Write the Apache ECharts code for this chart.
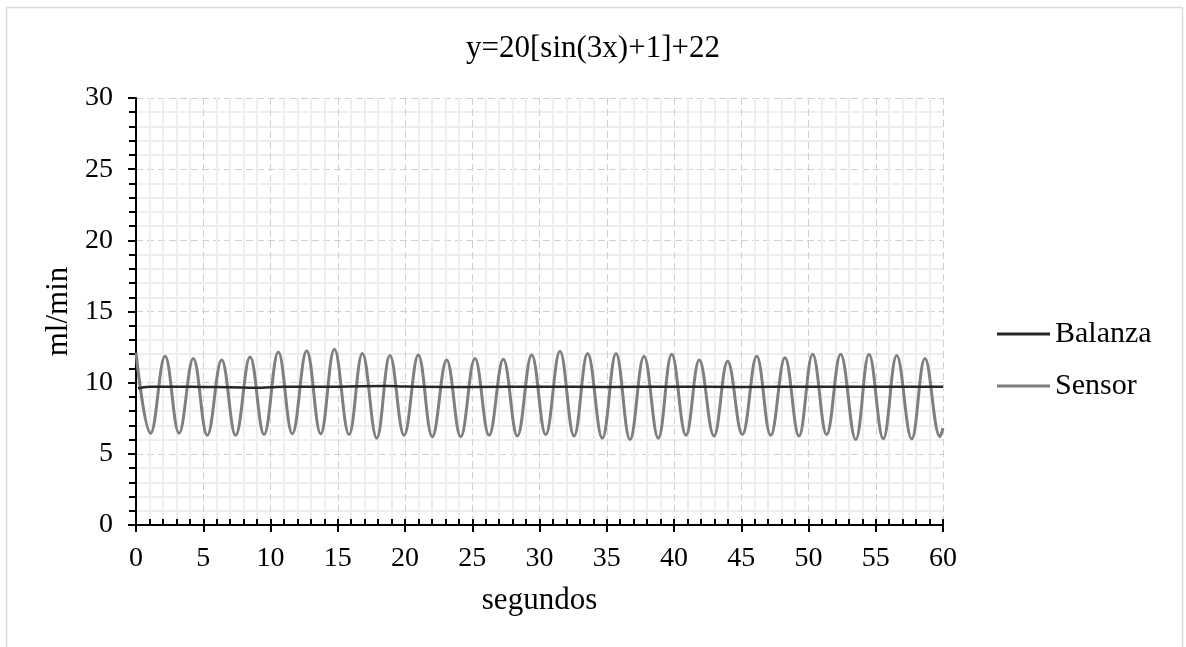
<!DOCTYPE html>
<html>
<head>
<meta charset="utf-8">
<script src="https://cdn.jsdelivr.net/npm/echarts@6/dist/echarts.min.js"></script>
<style>
html,body{margin:0;padding:0;background:#fff;}
#chart{width:1186px;height:647px;}
</style>
</head>
<body>
<div id="chart"></div>
<script>
// ---- data ----
var sensorTimes = [0, 1.09, 2.16, 3.2, 4.26, 5.3, 6.37, 7.41, 8.48, 9.52, 10.58, 11.62, 12.69, 13.73, 14.75, 15.84, 16.83, 17.9, 18.88, 19.93, 20.99, 22.03, 23.1, 24.14, 25.2, 26.25, 27.31, 28.35, 29.42, 30.46, 31.52, 32.57, 33.58, 34.67, 35.69, 36.73, 37.77, 38.83, 39.83, 40.89, 41.88, 42.97, 43.99, 45.08, 46.15, 47.19, 48.25, 49.29, 50.31, 51.35, 52.39, 53.51, 54.5, 55.56, 56.56, 57.67, 58.66, 59.78, 60];
var sensorValues = [12.1, 6.45, 11.85, 6.45, 11.7, 6.3, 11.6, 6.3, 11.8, 6.35, 12.15, 6.4, 12.25, 6.4, 12.35, 6.35, 12.05, 6.1, 11.9, 6.3, 11.95, 6.2, 11.6, 6.2, 11.7, 6.3, 11.65, 6.25, 11.95, 6.35, 12.2, 6.25, 12.05, 6.1, 12.05, 6.0, 11.85, 6.1, 12.0, 6.3, 11.6, 6.25, 11.5, 6.35, 11.85, 6.3, 11.75, 6.25, 12.0, 6.35, 12.0, 6.0, 12.0, 6.05, 11.9, 6.05, 11.7, 6.2, 6.8];
var balanzaTimes = [0.15, 1, 3, 5, 7, 9, 10, 11, 15, 18.6, 20, 25, 30, 35, 40, 45, 50, 55, 60];
var balanzaValues = [9.6, 9.72, 9.72, 9.7, 9.68, 9.65, 9.68, 9.72, 9.72, 9.76, 9.73, 9.7, 9.72, 9.7, 9.72, 9.7, 9.72, 9.72, 9.72];
var titleText = 'y=20[sin(3x)+1]+22';
var xName = 'segundos';
var yName = 'ml/min';
var seriesNames = ['Balanza', 'Sensor'];

function pairs(xs, ys) { return xs.map(function (x, i) { return [x, ys[i]]; }); }

var FONT = '"Liberation Serif", "Times New Roman", serif';
var chart = echarts.init(document.getElementById('chart'), null, {renderer: 'canvas'});
chart.setOption({
  animation: false,
  backgroundColor: '#fff',
  title: {
    text: titleText, left: 'center', top: 28,
    textStyle: {fontFamily: FONT, fontSize: 31, fontWeight: 'normal', color: '#000'}
  },
  legend: {
    orient: 'vertical', left: 997, top: 319, padding: 0, itemWidth: 53, itemHeight: 3, itemGap: 22,
    icon: 'rect', data: seriesNames,
    textStyle: {fontFamily: FONT, fontSize: 30, color: '#000'}
  },
  grid: {left: 136, right: 243, top: 98, bottom: 122, containLabel: false},
  graphic: [{
    type: 'rect', shape: {x: 6.5, y: 7.5, width: 1176, height: 700},
    style: {fill: 'none', stroke: '#dcdcdc', lineWidth: 1.5}, z: -10, silent: true
  }],
  xAxis: [{
    type: 'value', min: 0, max: 60, interval: 5, position: 'bottom',
    name: xName, nameLocation: 'middle', nameGap: 60,
    nameTextStyle: {fontFamily: FONT, fontSize: 31, color: '#000'},
    axisLine: {show: true, onZero: false, lineStyle: {color: '#000', width: 2}},
    axisTick: {show: true, inside: false, length: 7, lineStyle: {color: '#000', width: 2}},
    axisLabel: {fontFamily: FONT, fontSize: 28, color: '#000', margin: 20},
    splitLine: {show: true, lineStyle: {color: '#d0d0d0', width: 1, type: [7, 4]}},
    minorTick: {show: false, splitNumber: 5},
    minorSplitLine: {show: true, lineStyle: {color: '#eeeeee', width: 2}}
  }, {
    type: 'value', min: 0, max: 60, interval: 1, position: 'bottom',
    axisLine: {show: false},
    axisTick: {show: true, inside: true, length: 6, lineStyle: {color: '#000', width: 2}},
    axisLabel: {show: false},
    splitLine: {show: false}
  }],
  yAxis: [{
    type: 'value', min: 0, max: 30, interval: 5,
    name: yName, nameLocation: 'middle', nameGap: 61,
    nameTextStyle: {fontFamily: FONT, fontSize: 31, color: '#000'},
    axisLine: {show: true, onZero: false, lineStyle: {color: '#000', width: 2}},
    axisTick: {show: true, inside: false, length: 8, lineStyle: {color: '#000', width: 2}},
    axisLabel: {fontFamily: FONT, fontSize: 28, color: '#000', margin: 23},
    splitLine: {show: true, lineStyle: {color: '#d0d0d0', width: 1, type: [7, 4]}},
    minorTick: {show: true, splitNumber: 5, length: 7, lineStyle: {color: '#000', width: 2}},
    minorSplitLine: {show: true, lineStyle: {color: '#eeeeee', width: 2}}
  }],
  series: [{
    name: 'Sensor', type: 'line', xAxisIndex: 0, yAxisIndex: 0,
    data: pairs(sensorTimes, sensorValues), smooth: 0.4, showSymbol: false, symbol: 'none',
    lineStyle: {color: '#7f7f7f', width: 3}, itemStyle: {color: '#7f7f7f'}, z: 3
  }, {
    name: 'Balanza', type: 'line', xAxisIndex: 0, yAxisIndex: 0,
    data: pairs(balanzaTimes, balanzaValues), smooth: 0.5, showSymbol: false, symbol: 'none',
    lineStyle: {color: '#262626', width: 2.5}, itemStyle: {color: '#262626'}, z: 4
  }]
});
</script>
</body>
</html>
